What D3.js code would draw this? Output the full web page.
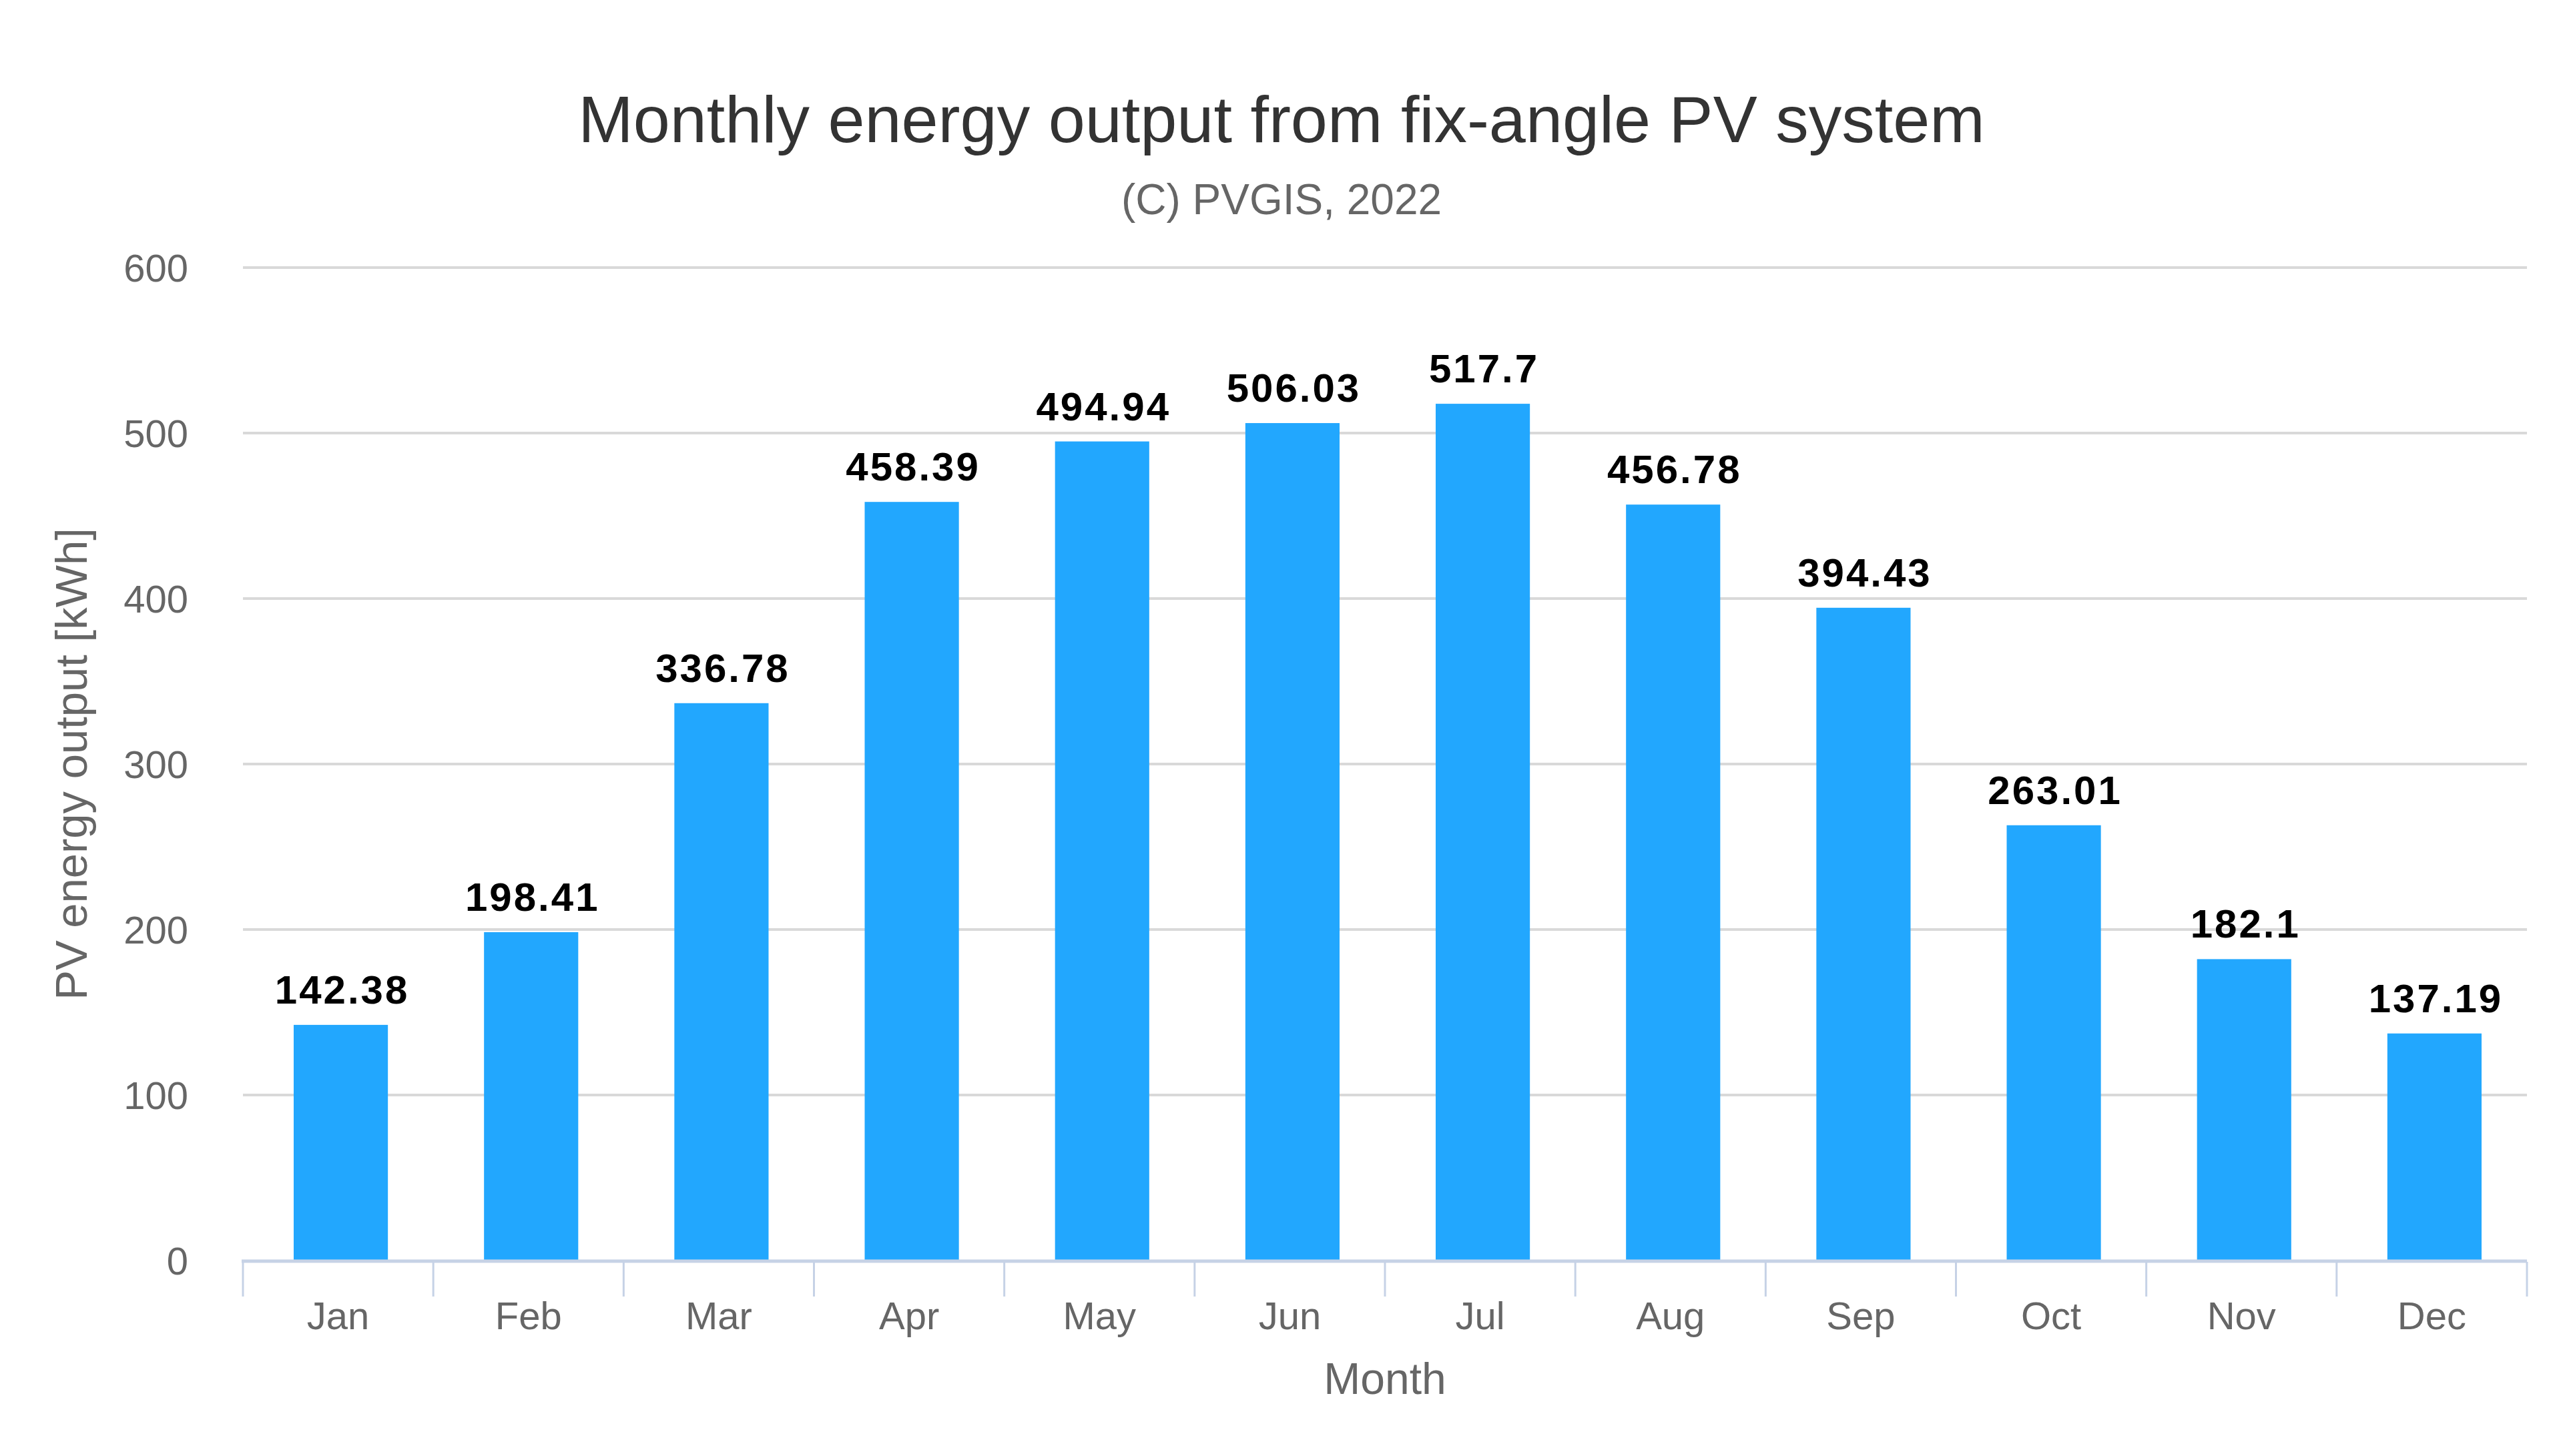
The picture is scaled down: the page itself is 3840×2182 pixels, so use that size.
<!DOCTYPE html>
<html>
<head>
<meta charset="utf-8">
<script src="https://cdn.jsdelivr.net/npm/d3@7"></script>
<style>
  html, body { margin: 0; padding: 0; background: #ffffff; }
  svg { display: block; }
</style>
</head>
<body>
<script>
const months = ["Jan","Feb","Mar","Apr","May","Jun","Jul","Aug","Sep","Oct","Nov","Dec"];
const outputKWh = [142.38, 198.41, 336.78, 458.39, 494.94, 506.03, 517.7, 456.78, 394.43, 263.01, 182.1, 137.19];
const yTicks = [0, 100, 200, 300, 400, 500, 600];
const titleText = "Monthly energy output from fix-angle PV system";
const subtitleText = "(C) PVGIS, 2022";
const xTitle = "Month";
const yTitle = "PV energy output [kWh]";

const W = 3840, H = 2182;
const margin = { left: 364, right: 54, top: 401, bottom: 293 };
const font = "'Liberation Sans', Arial, Helvetica, sans-serif";

const svg = d3.select("body").append("svg")
  .attr("width", W).attr("height", H)
  .style("font-family", font);

svg.append("rect").attr("width", W).attr("height", H).attr("fill", "#ffffff");

const x = d3.scaleBand()
  .domain(months)
  .range([margin.left, W - margin.right])
  .paddingInner(0.505)
  .paddingOuter(0.2525);

const y = d3.scaleLinear()
  .domain([0, 600])
  .range([H - margin.bottom, margin.top]);

// gridlines
svg.append("g")
  .selectAll("line")
  .data(yTicks.filter(d => d > 0))
  .join("line")
  .attr("x1", margin.left).attr("x2", W - margin.right)
  .attr("y1", d => y(d)).attr("y2", d => y(d))
  .attr("stroke", "#d9d9d9").attr("stroke-width", 4);

// y axis labels
const yAxis = d3.axisLeft(y).tickValues(yTicks).tickSize(0).tickPadding(0).tickFormat(d3.format("d"));
const yg = svg.append("g").attr("transform", `translate(${margin.left - 82},0)`).call(yAxis);
yg.select(".domain").remove();
yg.selectAll("text")
  .attr("fill", "#666666")
  .style("font-size", "58px")
  .style("font-family", font)
  .attr("dy", "0.36em");

// bars
const barShift = 4;
svg.append("g")
  .selectAll("rect")
  .data(outputKWh)
  .join("rect")
  .attr("x", (d, i) => x(months[i]) + barShift)
  .attr("width", x.bandwidth())
  .attr("y", d => y(d))
  .attr("height", d => y(0) - y(d))
  .attr("fill", "#22a7fe");

// value labels
svg.append("g")
  .selectAll("text")
  .data(outputKWh)
  .join("text")
  .attr("x", (d, i) => x(months[i]) + barShift + x.bandwidth() / 2 + 2)
  .attr("y", d => y(d) - 32)
  .attr("text-anchor", "middle")
  .attr("fill", "#000000")
  .style("font-size", "60px")
  .style("font-weight", "bold")
  .style("letter-spacing", "3px")
  .text(d => String(d));

// x axis
const xAxis = d3.axisBottom(x).tickSize(0).tickPadding(0);
const xg = svg.append("g").attr("transform", `translate(0,${y(0)})`).call(xAxis);
xg.select(".domain").remove();
xg.selectAll("text")
  .attr("fill", "#666666")
  .style("font-size", "58px")
  .style("font-family", font)
  .attr("dy", null)
  .attr("y", 103);

// axis baseline
svg.append("line")
  .attr("x1", margin.left - 2).attr("x2", W - margin.right)
  .attr("y1", y(0) + 1).attr("y2", y(0) + 1)
  .attr("stroke", "#c6d2e6").attr("stroke-width", 5);

// category boundary ticks
const boundaries = months.map(m => x(m) - x.step() * x.paddingInner() / 2);
boundaries.push(W - margin.right);
svg.append("g")
  .selectAll("line")
  .data(boundaries)
  .join("line")
  .attr("x1", d => d).attr("x2", d => d)
  .attr("y1", y(0) + 2).attr("y2", y(0) + 54)
  .attr("stroke", "#c6d2e6").attr("stroke-width", 3);

// titles
const titleX = (margin.left + W - margin.right) / 2 - 155;
svg.append("text")
  .attr("x", titleX)
  .attr("y", 213)
  .attr("text-anchor", "middle")
  .attr("fill", "#333333")
  .style("font-size", "99px")
  .text(titleText);

svg.append("text")
  .attr("x", titleX)
  .attr("y", 321)
  .attr("text-anchor", "middle")
  .attr("fill", "#666666")
  .style("font-size", "64px")
  .text(subtitleText);

svg.append("text")
  .attr("x", (margin.left + W - margin.right) / 2)
  .attr("y", 2089)
  .attr("text-anchor", "middle")
  .attr("fill", "#666666")
  .style("font-size", "66px")
  .text(xTitle);

svg.append("text")
  .attr("transform", `translate(130,${(y(0) + y(600)) / 2}) rotate(-90)`)
  .attr("text-anchor", "middle")
  .attr("fill", "#666666")
  .style("font-size", "67px")
  .text(yTitle);
</script>
</body>
</html>
